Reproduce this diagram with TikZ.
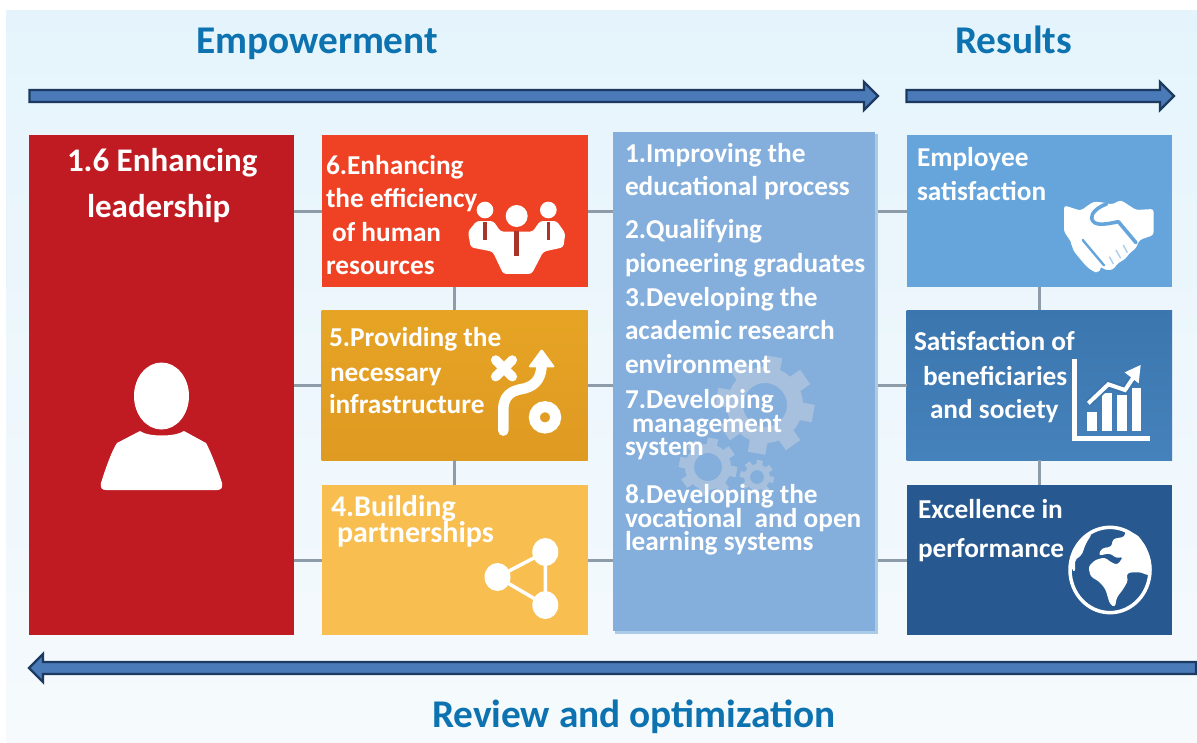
\documentclass[tikz,border=0pt]{standalone}
\usepackage{fontspec}
\setmainfont{Carlito}
\usetikzlibrary{calc}
\definecolor{cRed}{HTML}{C01B22}
\definecolor{cOrange}{HTML}{EF4123}
\definecolor{cAmberA}{HTML}{E6A424}
\definecolor{cAmberB}{HTML}{DF9A22}
\definecolor{cYellow}{HTML}{F8BE4F}
\definecolor{cMid}{HTML}{84AEDB}
\definecolor{cMidEdge}{HTML}{A9CBE8}
\definecolor{cGear}{HTML}{A6C0DE}
\definecolor{cEmp}{HTML}{66A5DC}
\definecolor{cBenA}{HTML}{3B76AF}
\definecolor{cBenB}{HTML}{4581BA}
\definecolor{cExc}{HTML}{27588F}
\definecolor{cHead}{HTML}{0C72B0}
\definecolor{cArrow}{HTML}{4A7AB8}
\definecolor{cArrowEdge}{HTML}{1C3A60}
\definecolor{cLink}{HTML}{8E9BA8}
\definecolor{cBgA}{HTML}{E5F4FC}
\definecolor{cBgB}{HTML}{F6FAFD}
\definecolor{cTie}{HTML}{A8352A}
\tikzset{
  panel/.style={anchor=north west,inner sep=0pt,outer sep=0pt,draw=none},
  link/.style={draw=cLink,line width=3pt},
  bigarrow/.style={fill=cArrow,draw=cArrowEdge,line width=2.4pt,line join=miter},
  bigshadow/.style={fill=black!28,draw=none},
  txt/.style={anchor=base west,inner sep=0pt,outer sep=0pt,text=white,font=\bfseries\fontsize{27.3}{27.3}\selectfont},
  big/.style={txt,font=\bfseries\fontsize{33}{33}\selectfont},
  head/.style={txt,text=cHead,font=\bfseries\fontsize{39.3}{39.3}\selectfont},
  wide/.style={txt,font=\bfseries\fontsize{30}{30}\selectfont},
  icon/.style={fill=white,draw=none},
  iconline/.style={draw=white,line cap=round,line join=round},
}
\newcommand{\blockarrow}[3]{%
  \fill[bigshadow,shift={(1,2.5)}] ($(#1)+(0,-6)$) -- ($(#2)+({-(#3)*14},-6)$) -- ($(#2)+({-(#3)*14},-14)$) -- (#2) -- ($(#2)+({-(#3)*14},14)$) -- ($(#2)+({-(#3)*14},6)$) -- ($(#1)+(0,6)$) -- cycle;
  \draw[bigarrow] ($(#1)+(0,-6)$) -- ($(#2)+({-(#3)*14},-6)$) -- ($(#2)+({-(#3)*14},-14)$) -- (#2) -- ($(#2)+({-(#3)*14},14)$) -- ($(#2)+({-(#3)*14},6)$) -- ($(#1)+(0,6)$) -- cycle;}
\newcommand{\gearshape}[5]{% cx cy outer root hole
  \draw[cGear,line width=#4pt-#5pt] (#1,#2) circle ({(#4+#5)/2});
  \foreach \a in {0,45,...,315}{
    \draw[cGear,line width=#3pt*0.36] ($(#1,#2)+(\a+10:#4-1 and #4-1)$) -- ($(#1,#2)+(\a+10:#3 and #3)$);}
}
\begin{document}
\begin{tikzpicture}[x=1pt,y=-1pt]
\useasboundingbox (0,0) rectangle (1197,742);
\fill[white] (0,0) rectangle (1197,742);
\shade[top color=cBgA,bottom color=cBgB] (6,10) rectangle (1197,742);

% panels
\node[panel,fill=cRed,minimum width=265pt,minimum height=500pt] (lead) at (28.7,135) {};
\node[panel,fill=cOrange,minimum width=266pt,minimum height=152pt] (hr) at (321.5,135) {};
\node[panel,top color=cAmberA,bottom color=cAmberB,minimum width=266pt,minimum height=150pt] (infra) at (321.5,310) {};
\node[panel,fill=cYellow,minimum width=266pt,minimum height=150pt] (part) at (321.5,485) {};
\fill[cMidEdge] (614.5,134) rectangle (877.5,633.5);
\node[panel,fill=cMid,minimum width=262.5pt,minimum height=499pt] (mid) at (612.5,132) {};
\node[panel,fill=cEmp,minimum width=265.5pt,minimum height=152pt] (emp) at (906.5,135) {};
\node[panel,top color=cBenA,bottom color=cBenB,minimum width=265.5pt,minimum height=150pt] (ben) at (906.5,310) {};
\node[panel,fill=cExc,minimum width=265.5pt,minimum height=150pt] (exc) at (906.5,485) {};

% connectors
\draw[link] (lead.east |- hr.west) -- (hr.west);
\draw[link] (lead.east |- infra.west) -- (infra.west);
\draw[link] (lead.east |- part.west) -- (part.west);
\draw[link] (hr.east) -- (mid.west |- hr.east);
\draw[link] (infra.east) -- (mid.west |- infra.east);
\draw[link] (part.east) -- (mid.west |- part.east);
\draw[link] ([xshift=3pt]mid.east |- emp.west) -- (emp.west);
\draw[link] ([xshift=3pt]mid.east |- ben.west) -- (ben.west);
\draw[link] ([xshift=3pt]mid.east |- exc.west) -- (exc.west);
\draw[link] (hr.south) -- (infra.north);
\draw[link] (infra.south) -- (part.north);
\draw[link] (emp.south) -- (ben.north);
\draw[link] (ben.south) -- (exc.north);

% block arrows
\coordinate (emS) at (29.5,96);
\coordinate (emE) at (878,96);
\coordinate (reS) at (906.5,96);
\coordinate (reE) at (1174,96);
\coordinate (opS) at (1196,668);
\coordinate (opE) at (29,668);
\blockarrow{emS}{emE}{1}
\blockarrow{reS}{reE}{1}
\blockarrow{opS}{opE}{-1}

% person
\fill[white] (161.5,396) ellipse (27.5 and 33.5);
\fill[white] (140,431) .. controls (148,437) and (175,437) .. (184,431)
  -- (206,443) .. controls (210,450) and (218,470) .. (222,483) .. controls (223,488) and (221,490) .. (217,490)
  -- (106,490) .. controls (102,490) and (100,488) .. (101,483) .. controls (105,470) and (112,450) .. (117,443) -- cycle;

% team icon
\begin{scope}[shift={(460,190)},x=.3333pt,y=-.3333pt]
  \fill[white] (170,78) circle (33);
  \fill[white] (75,60) circle (25);
  \fill[white] (265,60) circle (25);
  \fill[icon,rounded corners=3pt] (50,93) -- (100,93) -- (122,125) -- (218,125) -- (240,93) -- (290,93) -- (316,130) -- (310,172) -- (250,185) -- (215,252) -- (130,252) -- (98,185) -- (32,172) -- (24,125) -- cycle;
  \draw[cTie,line width=3.5pt] (75,95) -- (75,150);
  \draw[cTie,line width=3.5pt] (265,95) -- (265,150);
  \draw[cTie,line width=4.5pt] (170,122) -- (170,198);
\end{scope}

% route icon
\begin{scope}[shift={(480,340)},x=.3333pt,y=-.3333pt]
  \draw[iconline,line width=10.5pt] (70,272) -- (70,205) .. controls (72,155) and (110,150) .. (135,145) .. controls (170,135) and (185,110) .. (185,70);
  \fill[icon,rounded corners=2pt] (185,26) -- (226,82) -- (144,82) -- cycle;
  \draw[white,line width=11pt] (195,232) circle (32);
  \draw[iconline,line width=9.5pt] (47,60) -- (97,110);
  \draw[iconline,line width=9.5pt] (97,60) -- (47,110);
\end{scope}

% share icon
\draw[white,line width=3.5pt,line join=round] (545.3,552) -- (497.5,577) -- (545.3,605) -- cycle;
\fill[white] (545.3,552) ellipse (13 and 14);
\fill[white] (497.5,577) ellipse (13 and 14);
\fill[white] (545.3,605) ellipse (13 and 14);

% handshake icon
\begin{scope}[shift={(1050,190)},x=.3333pt,y=-.3333pt]
  \fill[icon,rounded corners=3pt] (42,46) -- (92,62) -- (130,35) -- (165,38) -- (185,44) -- (212,30) -- (258,60) -- (311,57) -- (311,135) -- (268,150) -- (258,175) -- (240,188) -- (225,208) -- (205,218) -- (188,240) -- (165,240) -- (150,228) -- (130,245) -- (108,228) -- (70,182) -- (63,155) -- (42,125) -- cycle;
  \foreach \p in {(78,160),(92,180),(106,198),(122,215),(138,232)} {\fill[white] \p circle (15);}
  \draw[cEmp,line width=3.6pt,line cap=round,line join=round] (170,42) .. controls (145,50) and (122,70) .. (125,85) .. controls (130,108) and (160,105) .. (205,95) -- (258,158);
  \draw[cEmp,line width=2.4pt,line cap=round] (98,150) -- (162,226);
  \draw[cEmp!55!white,line width=1.4pt] (178,200) -- (190,222);
  \draw[cEmp!55!white,line width=1.4pt] (198,180) -- (212,205);
  \draw[cEmp!55!white,line width=1.4pt] (220,165) -- (232,188);
\end{scope}

% chart icon
\begin{scope}[shift={(1060,355)},x=.3333pt,y=-.3333pt]
  \draw[white,line width=4.5pt,line join=miter] (43,12) -- (43,250) -- (270,250);
  \fill[white] (80,170) rectangle (110,228);
  \fill[white] (125,115) rectangle (155,228);
  \fill[white] (170,120) rectangle (200,228);
  \fill[white] (215,100) rectangle (242,228);
  \draw[cBenA,line width=8pt] (85,145) -- (145,88) -- (195,105) -- (222,65);
  \draw[white,line width=4pt] (85,145) -- (145,88) -- (195,105) -- (222,65);
  \fill[white] (242,30) -- (194,52) -- (236,85) -- cycle;
\end{scope}

% globe icon
\begin{scope}[shift={(1060,515)},x=.3333pt,y=-.3333pt]
  \draw[white,line width=3.5pt] (150,165) ellipse (120 and 128);
  \fill[icon,rounded corners=2pt] (95,58) -- (78,85) -- (65,120) -- (45,135) -- (45,170) -- (35,165) -- (35,110) -- (60,75) -- cycle;
  \fill[icon,rounded corners=3pt] (195,42) -- (235,62) -- (258,95) -- (272,135) -- (275,175) -- (262,182) -- (245,172) -- (208,172) -- (198,180) -- (205,195) -- (190,222) -- (170,248) -- (165,277) -- (150,268) -- (136,222) -- (118,200) -- (92,185) -- (85,155) -- (105,135) -- (135,127) -- (150,140) -- (172,150) -- (190,125) -- (170,130) -- (150,115) -- (115,122) -- (125,100) -- (155,95) -- (158,72) -- (195,65) -- cycle;
\end{scope}

% gears
\gearshape{765}{405}{49}{38}{22}
\gearshape{708}{467}{29}{23}{14}
\gearshape{757}{477}{17}{13}{7}

% texts
\node[head] (tEmp) at (196,53) {Empowerment};
\node[head] (tRes) at (955,53) {Results};
\node[head] (tRev) at (432,727) {Review and optimization};

\node[big] (a1) at (67,171) {1.6 Enhancing};
\node[big] (a2) at (87,217) {leadership};

\node[txt] (b1) at (326,174) {6.Enhancing};
\node[txt] (b2) at (326,207) {the efficiency};
\node[txt] (b3) at (332,241) {of human};
\node[txt] (b4) at (326,274) {resources};
\node[txt] (c1) at (329,346) {5.Providing the};
\node[txt] (c2) at (330,381) {necessary};
\node[txt] (c3) at (329,413) {infrastructure};
\node[wide] (d1) at (331,516) {4.Building};
\node[wide] (d2) at (337,542) {partnerships};

\node[txt] (m1) at (625,162) {1.Improving the};
\node[txt] (m2) at (625,195) {educational process};
\node[txt] (m3) at (625,238) {2.Qualifying};
\node[txt] (m4) at (625,272) {pioneering graduates};
\node[txt] (m5) at (625,306) {3.Developing the};
\node[txt] (m6) at (625,339) {academic research};
\node[txt] (m7) at (625,373) {environment};
\node[txt] (m8) at (625,408) {7.Developing};
\node[txt] (m9) at (632,432) {management};
\node[txt] (m10) at (625,455) {system};
\node[txt] (m11) at (625,503) {8.Developing the};
\node[txt] (m12) at (625,527) {vocational\ \ and open};
\node[txt] (m13) at (625,550) {learning systems};

\node[txt] (e1) at (917,166) {Employee};
\node[txt] (e2) at (917,200) {satisfaction};
\node[txt] (f1) at (914,350) {Satisfaction of};
\node[txt] (f2) at (923,385) {beneficiaries};
\node[txt] (f3) at (930,418) {and society};
\node[txt] (g1) at (918,518) {Excellence in};
\node[txt] (g2) at (918,557) {performance};
\end{tikzpicture}
\end{document}
